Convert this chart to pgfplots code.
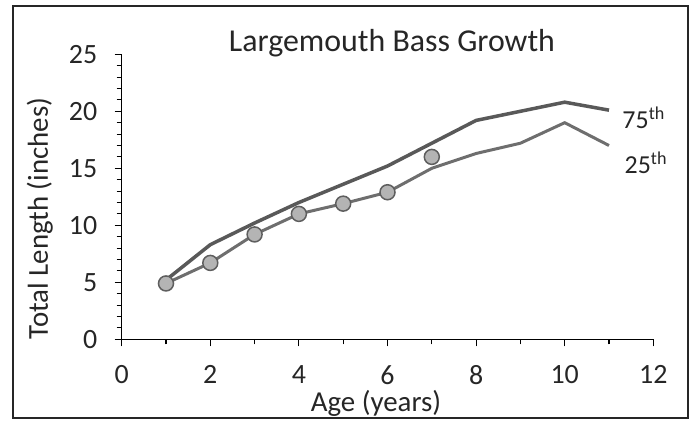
\documentclass[border=0pt]{standalone}
\usepackage{pgfplots}
\pgfplotsset{compat=1.18}
\usepackage{fontspec}
\setmainfont{Carlito}
\definecolor{topline}{HTML}{595959}
\definecolor{lowline}{HTML}{6E6E6E}
\definecolor{mfill}{HTML}{B4B4B4}
\definecolor{medge}{HTML}{5E5E5E}
\definecolor{txt}{HTML}{262626}
\begin{document}
\begin{tikzpicture}
\useasboundingbox (-121.7bp,-83.7bp) rectangle (573.3bp,339.3bp);
\draw[line width=1.5bp, black!85] (-108.7bp,-78.7bp) rectangle (566.3bp,333.3bp);
\begin{axis}[
  at={(0,0)}, anchor=origin,
  scale only axis, width=531.6bp, height=285bp,
  xmin=0, xmax=12, ymin=0, ymax=25,
  axis x line*=bottom, axis y line*=left,
  axis line style={line width=1.3bp, black},
  xtick={0,2,...,12}, minor xtick={1,3,...,11},
  ytick={0,5,...,25}, minor ytick={1,2,3,4,6,7,8,9,11,12,13,14,16,17,18,19,21,22,23,24},
  tick align=outside,
  major tick length=7bp, minor tick length=5bp,
  tick style={line width=1.1bp, black},
  /pgf/number format/assume math mode=true,
  tick label style={font=\fontsize{28}{28}\selectfont, text=txt},
  xticklabel style={yshift=-16bp},
  yticklabel style={xshift=-14bp},
  xlabel={Age (years)}, ylabel={Total Length (inches)},
  label style={font=\fontsize{29}{29}\selectfont, text=txt},
  xlabel style={at={(axis cs:5.74,-6.3)}, anchor=base},
  ylabel style={at={(axis cs:-1.85,10.6)}, anchor=center, rotate=0},
  clip=false,
]
\addplot[topline, line width=3.5bp] coordinates {
  (1,5.2) (2,8.3) (3,10.2) (4,12.0) (5,13.6) (6,15.2) (7,17.2) (8,19.2) (9,20.0) (10,20.8) (11,20.1)};
\addplot[lowline, line width=3bp] coordinates {
  (1,4.9) (2,6.7) (3,9.2) (4,11.0) (5,11.9) (6,12.9) (7,15.0) (8,16.3) (9,17.2) (10,19.0) (11,17.0)};
\addplot[only marks, mark=*, mark size=7.5bp, mark options={fill=mfill, draw=medge, line width=1.5bp}] coordinates {
  (1,4.9) (2,6.7) (3,9.2) (4,11.0) (5,11.9) (6,12.9) (7,16.0)};
\node[anchor=west, text=txt, font=\fontsize{26}{26}\selectfont, inner sep=0pt] at (axis cs:11.3,19.4) {75\textsuperscript{th}};
\node[anchor=west, text=txt, font=\fontsize{26}{26}\selectfont, inner sep=0pt] at (axis cs:11.35,15.5) {25\textsuperscript{th}};
\node[text=txt, font=\fontsize{32}{32}\selectfont] at (axis cs:6.1,26.0) {Largemouth Bass Growth};
\end{axis}
\end{tikzpicture}
\end{document}
